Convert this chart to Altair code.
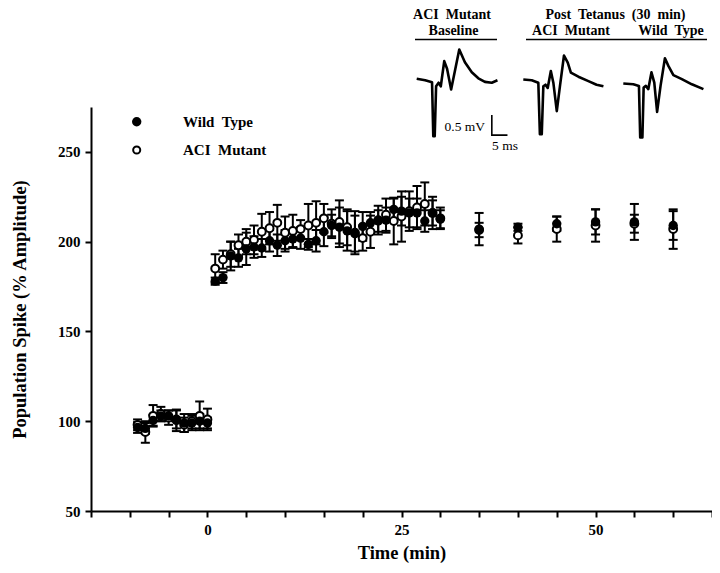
import altair as alt
import pandas as pd

FONT = "Liberation Serif"

# ---------------- values ----------------
time_min = [-9, -8, -7, -6, -5, -4, -3, -2, -1, 0,
            1, 2, 3, 4, 5, 6, 7, 8, 9, 10,
            11, 12, 13, 14, 15, 16, 17, 18, 19, 20,
            21, 22, 23, 24, 25, 26, 27, 28, 29, 30,
            35, 40, 45, 50, 55, 60]
wt_mean = [96.5, 96, 100.5, 103, 103, 100.5, 99, 99, 100, 99,
           178, 180, 192, 191, 196, 197, 196.5, 200.5, 198, 200.5,
           201.5, 202, 198.5, 200.5, 205.5, 209, 208, 206, 204.5, 208.5,
           210.5, 211.5, 212, 218, 217, 216, 216, 211.5, 216, 212.5,
           207, 208, 210, 211, 211, 209]
wt_sem = [3, 3, 3, 3, 3, 6, 5, 4, 4, 3,
          2, 3, 8, 5, 9, 6, 5, 6, 6, 6,
          5, 6, 3, 6, 8, 6, 11, 11, 10, 8,
          6, 6, 7, 6, 8, 8, 8, 6, 7, 5,
          9, 2, 4, 7, 10, 8]
mut_mean = [98, 94, 103, 104, 102, 101, 98, 100, 103, 101,
            185, 190, 193, 198, 200, 201, 205.5, 207.5, 210.5, 205,
            206, 207, 209, 210.5, 213, 210, 211, 208, 205, 202,
            205.5, 212, 215, 211.5, 214, 217, 219, 221, 216, 213,
            206.5, 203.5, 207, 209, 210, 207]
mut_sem = [3, 6, 6, 4, 4, 5, 4, 4, 8, 6,
           8, 5, 7, 6, 7, 8, 10, 9, 10, 9,
           9, 5, 12, 12, 8, 8, 12, 10, 12, 7,
           9, 8, 9, 13, 14, 11, 12, 12, 9, 6,
           4, 4.5, 7, 9, 5, 11]

x_ticks = [-15, -10, -5, 0, 5, 10, 15, 20, 25, 30, 35, 40, 45, 50, 55, 60, 65]
y_ticks = [50, 100, 150, 200, 250]

# inset field-potential traces (ms, mV)
trace1_ms = [0, 2.7, 4.9, 5.3, 5.75, 6.2, 7.0, 7.7, 8.8, 9.7, 11.0, 13.6, 15.4, 17.6, 19.7, 21.8, 24.0, 25.8]
trace1_mv = [0.02, -0.02, -0.07, -1.42, -1.42, -0.17, -0.08, -0.17, 0.46, 0.27, -0.25, 0.75, 0.43, 0.18, 0.03, -0.06, -0.08, -0.02]
trace2_ms = [0, 2.7, 4.8, 5.3, 5.9, 6.4, 7.1, 7.8, 8.8, 9.6, 10.7, 11.7, 13.0, 14.2, 15.2, 17.6, 20.8, 23.4, 25.6]
trace2_mv = [0, -0.02, -0.08, -1.37, -1.37, -0.17, -0.13, -0.21, 0.21, -0.08, -0.79, -0.17, 0.6, 0.42, 0.17, 0.07, -0.04, -0.13, -0.17]
trace3_ms = [0, 3.2, 5.0, 5.4, 6.1, 6.5, 7.2, 8.0, 9.0, 9.9, 10.8, 11.9, 13.3, 14.4, 16.0, 18.7, 21.9, 25.6]
trace3_mv = [0, -0.02, -0.06, -1.35, -1.35, -0.1, -0.06, -0.14, 0.28, 0.02, -0.71, -0.06, 0.63, 0.44, 0.21, 0.11, -0.02, -0.14]
scalebar_ms = [24, 24, 29]
scalebar_mv = [-0.92, -1.42, -1.42]

# ---------------- layout ----------------
OX, OY = 91, 107          # page position of plot origin
W, H = 621, 404

df_wt = pd.DataFrame({"t": time_min, "mean": wt_mean, "sem": wt_sem})
df_wt["series"] = "Wild Type"
df_mut = pd.DataFrame({"t": time_min, "mean": mut_mean, "sem": mut_sem})
df_mut["series"] = "ACI Mutant"
long = pd.concat([df_mut, df_wt], ignore_index=True)
long["lo"] = long["mean"] - long["sem"]
long["hi"] = long["mean"] + long["sem"]

xs = alt.Scale(domain=[-15, 65], nice=False, zero=False)
ys = alt.Scale(domain=[50, 275], nice=False, zero=False)
xaxis = alt.Axis(values=x_ticks, title="Time (min)", labelOverlap=False,
                 labelExpr="datum.value % 25 == 0 ? datum.label : ''",
                 titlePadding=6)
yaxis = alt.Axis(values=y_ticks, title="Population Spike (% Amplitude)",
                 titlePadding=28)


def X(f):
    return alt.X(f"{f}:Q", scale=xs, axis=xaxis)


def Y(f):
    return alt.Y(f"{f}:Q", scale=ys, axis=yaxis)


bars = alt.Chart(long).mark_rule(color="black", strokeWidth=2).encode(
    x=X("t"), y=Y("lo"), y2="hi")
caps = alt.Chart(long).transform_fold(["lo", "hi"], as_=["end", "val"]).mark_tick(
    orient="horizontal", size=9, thickness=2, color="black", opacity=1).encode(
    x=X("t"), y=Y("val"))
open_pts = alt.Chart(df_mut).mark_point(
    shape="circle", filled=True, fill="white", stroke="black", strokeWidth=2,
    size=62, opacity=1).encode(x=X("t"), y=Y("mean"))
filled_pts = alt.Chart(df_wt).mark_point(
    shape="circle", filled=True, color="black", size=88, opacity=1).encode(
    x=X("t"), y=Y("mean"))

main = alt.layer(bars, caps, open_pts, filled_pts)


def trace_layer(ms, mv, x0, yb):
    d = pd.DataFrame({"ms": ms, "mv": mv, "i": list(range(len(ms)))})
    return alt.Chart(d).mark_line(color="black", strokeWidth=2.6, strokeJoin="round").encode(
        x=alt.X("ms:Q", axis=None,
                scale=alt.Scale(domain=[0, 26], range=[x0 - OX, x0 - OX + 26 * 3.13], nice=False, zero=False)),
        y=alt.Y("mv:Q", axis=None,
                scale=alt.Scale(domain=[-1.5, 1.0], range=[yb - OY + 1.5 * 40, yb - OY - 1.0 * 40], nice=False, zero=False)),
        order="i:O")


tr1 = trace_layer(trace1_ms, trace1_mv, 416.7, 79.5)
tr2 = trace_layer(trace2_ms, trace2_mv, 523.3, 79.5)
tr3 = trace_layer(trace3_ms, trace3_mv, 623.3, 83.5)

sb = pd.DataFrame({"ms": scalebar_ms, "mv": scalebar_mv, "i": [0, 1, 2]})
sbar = alt.Chart(sb).mark_line(color="black", strokeWidth=1.6).encode(
    x=alt.X("ms:Q", axis=None,
            scale=alt.Scale(domain=[0, 26], range=[416.7 - OX, 416.7 - OX + 26 * 3.13], nice=False, zero=False)),
    y=alt.Y("mv:Q", axis=None,
            scale=alt.Scale(domain=[-1.5, 1.0], range=[78.3 - OY + 60, 78.3 - OY - 40], nice=False, zero=False)),
    order="i:O")


def label(text, px, py, size=14, align="center", weight="bold"):
    return alt.Chart(pd.DataFrame({"txt": [text]})).mark_text(
        font=FONT, fontSize=size, fontWeight=weight, align=align,
        baseline="middle", color="black").encode(
        x=alt.value(px - OX), y=alt.value(py - OY), text="txt:N")


def hline(x1, x2, py):
    return alt.Chart(pd.DataFrame({"d": [0]})).mark_rule(color="black", strokeWidth=1.6).encode(
        x=alt.value(x1 - OX), x2=alt.value(x2 - OX), y=alt.value(py - OY))


NB = "\u00a0"
texts = [
    label(f"ACI{NB} Mutant", 452, 15),
    label("Baseline", 453.5, 31),
    label(f"Post{NB} Tetanus{NB} (30{NB} min)", 615.5, 15),
    label(f"ACI{NB} Mutant", 571, 31),
    label(f"Wild{NB} Type", 671, 31),
    label("0.5 mV", 485, 127, size=13.5, align="right", weight="normal"),
    label("5 ms", 492, 146, size=13.5, align="left", weight="normal"),
    label(f"Wild{NB} Type", 183, 122, size=15, align="left"),
    label(f"ACI{NB} Mutant", 183, 150, size=15, align="left"),
]
rules = [hline(415, 497, 39.5), hline(526, 707, 39.5)]

leg_filled = alt.Chart(pd.DataFrame({"d": [0]})).mark_point(
    shape="circle", filled=True, color="black", size=88, opacity=1).encode(
    x=alt.value(136.7 - OX), y=alt.value(121.7 - OY))
leg_open = alt.Chart(pd.DataFrame({"d": [0]})).mark_point(
    shape="circle", filled=True, fill="white", stroke="black", strokeWidth=2,
    size=50, opacity=1).encode(x=alt.value(136.7 - OX), y=alt.value(150 - OY))

chart = alt.layer(main, tr1, tr2, tr3, sbar, *rules, *texts, leg_filled, leg_open).resolve_scale(
    x="independent", y="independent"
).properties(
    width=W, height=H,
    padding={"left": OX - 8, "top": OY - 8, "right": 0, "bottom": 55},
    autosize=alt.AutoSizeParams(type="none"),
    background="white",
).configure_axis(
    domainColor="black", domainWidth=2, tickColor="black", tickWidth=2, tickSize=6,
    labelFont=FONT, labelFontSize=15, labelFontWeight="bold", labelColor="black",
    labelPadding=5, titleFont=FONT, titleFontSize=18.5, titleFontWeight="bold",
    titleColor="black", grid=False,
).configure_view(strokeWidth=0)

chart.save("out.html", embed_options={"renderer": "svg", "actions": False})
